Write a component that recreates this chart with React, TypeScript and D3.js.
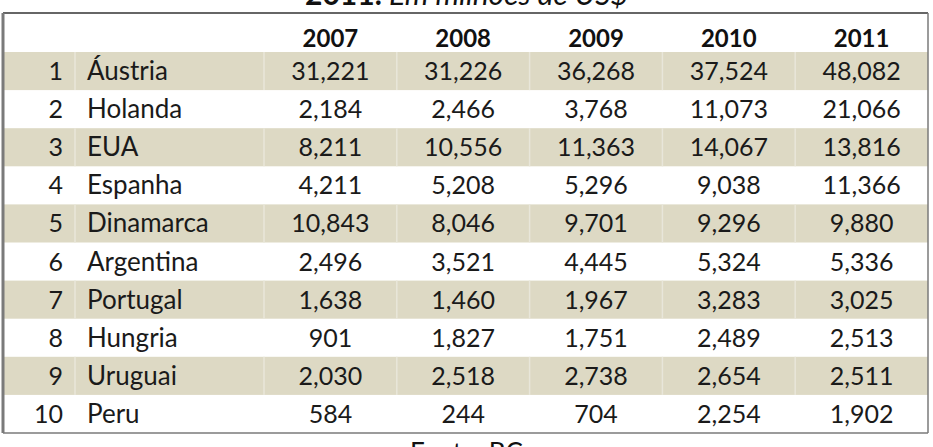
import { useEffect, useRef } from 'react';
import * as d3 from 'd3';

const width = 933;
const height = 447;

const years = ['2007', '2008', '2009', '2010', '2011'];
const ranks = [1, 2, 3, 4, 5, 6, 7, 8, 9, 10];
const countries = ['Áustria', 'Holanda', 'EUA', 'Espanha', 'Dinamarca', 'Argentina', 'Portugal', 'Hungria', 'Uruguai', 'Peru'];
const values2007 = [31221, 2184, 8211, 4211, 10843, 2496, 1638, 901, 2030, 584];
const values2008 = [31226, 2466, 10556, 5208, 8046, 3521, 1460, 1827, 2518, 244];
const values2009 = [36268, 3768, 11363, 5296, 9701, 4445, 1967, 1751, 2738, 704];
const values2010 = [37524, 11073, 14067, 9038, 9296, 5324, 3283, 2489, 2654, 2254];
const values2011 = [48082, 21066, 13816, 11366, 9880, 5336, 3025, 2513, 2511, 1902];
const titleBold = '2011.';
const titleItalic = 'Em milhões de US$';
const source = 'Fonte: BC';

const series = [values2007, values2008, values2009, values2010, values2011];

export default function App() {
    const ref = useRef<SVGSVGElement>(null);

    useEffect(() => {
        const svg = d3.select(ref.current);
        svg.selectAll('*').remove();

        const font = 'Lato, "Open Sans", sans-serif';
        const left = 3;
        const right = 928;
        const top = 13;
        const headerBottom = 52;
        const bottom = 433;
        const rankRight = 63;
        const nameLeft = 87;
        const rankColEnd = 75;
        const nameColEnd = 264;

        const y = d3.scaleBand<number>().domain(ranks).range([headerBottom, bottom]);
        const x = d3.scaleBand<string>().domain(years).range([nameColEnd, right]);
        const fmt = d3.format(',');

        // stripes
        svg.append('g')
            .selectAll('rect')
            .data(ranks.filter((r) => r % 2 === 1))
            .join('rect')
            .attr('x', left)
            .attr('y', (r) => y(r)!)
            .attr('width', right - left)
            .attr('height', y.bandwidth())
            .attr('fill', '#ddd9c4');

        // faint cell separators on stripes
        const seps = [rankColEnd, nameColEnd, ...years.slice(1).map((yr) => x(yr)!)];
        svg.append('g')
            .selectAll('g')
            .data(ranks.filter((r) => r % 2 === 1))
            .join('g')
            .selectAll('line')
            .data((r) => seps.map((s) => ({ r, s })))
            .join('line')
            .attr('x1', (d) => d.s)
            .attr('x2', (d) => d.s)
            .attr('y1', (d) => y(d.r)!)
            .attr('y2', (d) => y(d.r)! + y.bandwidth())
            .attr('stroke', '#e8e6da')
            .attr('stroke-width', 1.5);

        // header
        svg.append('g')
            .selectAll('text')
            .data(years)
            .join('text')
            .attr('x', (d) => x(d)! + x.bandwidth() / 2)
            .attr('y', 47)
            .attr('text-anchor', 'middle')
            .attr('font-family', font)
            .attr('font-weight', 'bold')
            .attr('font-size', 24)
            .attr('fill', '#111')
            .text((d) => d);

        const rows = svg.append('g')
            .selectAll('g')
            .data(ranks)
            .join('g')
            .attr('transform', (r) => `translate(0, ${y(r)! + 28})`)
            .attr('font-family', font)
            .attr('font-size', 25)
            .attr('fill', '#1a1a1a');

        rows.append('text')
            .attr('x', rankRight)
            .attr('text-anchor', 'end')
            .text((r) => r);

        rows.append('text')
            .attr('x', nameLeft)
            .attr('font-size', 26)
            .text((_r, i) => countries[i]);

        rows.selectAll('text.val')
            .data((_r, i) => years.map((yr, j) => ({ yr, v: series[j][i] })))
            .join('text')
            .attr('class', 'val')
            .attr('x', (d) => x(d.yr)! + x.bandwidth() / 2)
            .attr('text-anchor', 'middle')
            .text((d) => fmt(d.v));

        // borders
        svg.append('line')
            .attr('x1', left).attr('x2', right).attr('y1', top).attr('y2', top)
            .attr('stroke', '#333').attr('stroke-width', 1.5);
        svg.append('line')
            .attr('x1', left).attr('x2', right).attr('y1', bottom).attr('y2', bottom)
            .attr('stroke', '#7a7a7a').attr('stroke-width', 1.5);
        svg.append('line')
            .attr('x1', left).attr('x2', left).attr('y1', top).attr('y2', bottom)
            .attr('stroke', '#7a7a7a').attr('stroke-width', 3);
        svg.append('line')
            .attr('x1', right).attr('x2', right).attr('y1', top).attr('y2', bottom)
            .attr('stroke', '#7a7a7a').attr('stroke-width', 1.5);

        // title, cut at the top like the reference
        const title = svg.append('text')
            .attr('x', width / 2)
            .attr('y', 5)
            .attr('text-anchor', 'middle')
            .attr('font-family', font)
            .attr('font-size', 30)
            .attr('fill', '#111');
        title.append('tspan').attr('font-weight', 'bold').text(titleBold + ' ');
        title.append('tspan').attr('font-style', 'italic').text(titleItalic);

        // source, cut at the bottom
        svg.append('text')
            .attr('x', width / 2)
            .attr('y', 462)
            .attr('text-anchor', 'middle')
            .attr('font-family', font)
            .attr('font-size', 26)
            .attr('fill', '#111')
            .text(source);
    }, []);

    return (
        <svg
            ref={ref}
            width={width}
            height={height}
            style={{ position: 'absolute', left: 0, top: 0, background: '#fff' }}
        />
    );
}
